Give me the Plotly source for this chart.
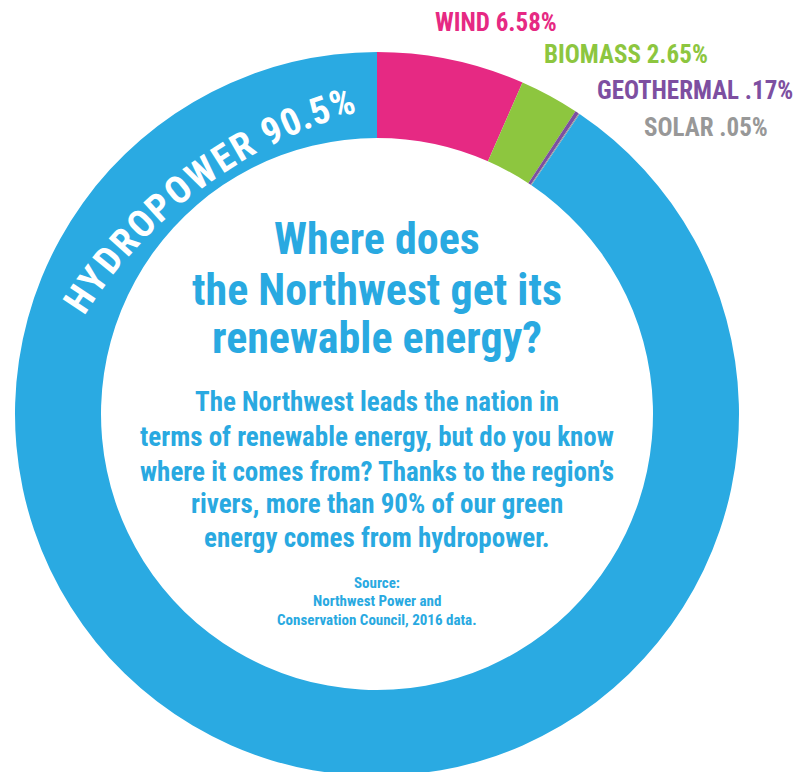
import math
import plotly.graph_objects as go

# ---------------- data ----------------
sources = ["WIND", "BIOMASS", "GEOTHERMAL", "SOLAR", "HYDROPOWER"]
shares = [6.58, 2.65, 0.17, 0.05, 90.5]
share_text = ["6.58%", "2.65%", ".17%", ".05%", "90.5%"]
colors = ["#E62983", "#8DC63F", "#7D4FA1", "#989898", "#2AAAE2"]

title_lines = ["Where does", "the Northwest get its", "renewable energy?"]
body_lines = [
    "The Northwest leads the nation in",
    "terms of renewable energy, but do you know",
    "where it comes from? Thanks to the region\u2019s",
    "rivers, more than 90% of our green",
    "energy comes from hydropower.",
]
source_lines = ["Source:", "Northwest Power and", "Conservation Council, 2016 data."]

# ---------------- layout constants (screen px, top-left origin) ----------------
W, H = 802, 772
OFF = 8                    # page body margin around the plot div
CX, CY = 377, 414          # donut centre
R_OUT = 362
HOLE = 276 / 362
FONT = "Roboto Condensed, Open Sans Condensed, DejaVu Sans Condensed, sans-serif"
TXT_BLUE = "#29A9E1"


def px(x):
    return (x - OFF) / W


def py(y):
    return 1 - (y - OFF) / H


fcx, fcy = CX - OFF, CY - OFF          # centre in figure coords
fig = go.Figure(
    go.Pie(
        labels=sources,
        values=shares,
        marker=dict(colors=colors, line=dict(width=0)),
        hole=HOLE,
        sort=False,
        direction="clockwise",
        rotation=0,
        textinfo="none",
        hoverinfo="label+percent",
        showlegend=False,
        domain=dict(x=[(fcx - R_OUT) / W, (fcx + R_OUT) / W],
                    y=[(H - fcy - R_OUT) / H, (H - fcy + R_OUT) / H]),
    )
)

ann = []

# outside labels for the small slices (top-right)
lab_pos = [(433, 23), (542, 55), (595, 91), (642, 127)]
for i, (x, y) in enumerate(lab_pos):
    ann.append(dict(x=px(x), y=py(y), xref="paper", yref="paper",
                    xanchor="left", yanchor="middle", showarrow=False,
                    text=f"<b>{sources[i]} {share_text[i]}</b>",
                    font=dict(family=FONT, size=25, color=colors[i])))

# curved label along the hydropower ring (text path: flatter arc)
TAX, TAY, TR = CX + 106, CY + 151, 483
A0, A1 = -56.6, -17.0
CW = {"H": .63, "Y": .57, "D": .60, "R": .59, "O": .62, "P": .60,
      "W": .80, "E": .52, " ": .25, "9": .51, "0": .51, ".": .25,
      "5": .51, "%": .66}
label = f"{sources[4]} {share_text[4]}"
wd = [CW.get(c, .55) for c in label]
cent = [sum(wd[:k]) + wd[k] / 2 for k in range(len(label))]
for k, ch in enumerate(label):
    if ch == " ":
        continue
    t = (cent[k] - cent[0]) / (cent[-1] - cent[0])
    th = math.radians(A0 + t * (A1 - A0))
    x = TAX + TR * math.sin(th)
    y = TAY - TR * math.cos(th)
    ann.append(dict(x=px(x), y=py(y), xref="paper", yref="paper",
                    xanchor="center", yanchor="middle", showarrow=False,
                    text=f"<b>{ch}</b>", textangle=math.degrees(th),
                    font=dict(family=FONT, size=38, color="white")))

# centre title
for line, y in zip(title_lines, [239, 290, 338]):
    ann.append(dict(x=px(CX), y=py(y), xref="paper", yref="paper",
                    xanchor="center", yanchor="middle", showarrow=False,
                    text=f"<b>{line}</b>",
                    font=dict(family=FONT, size=44, color=TXT_BLUE)))

for line, y in zip(body_lines, [402, 437, 472, 504, 538]):
    ann.append(dict(x=px(CX), y=py(y), xref="paper", yref="paper",
                    xanchor="center", yanchor="middle", showarrow=False,
                    text=f"<b>{line}</b>",
                    font=dict(family=FONT, size=27, color=TXT_BLUE)))

for line, y in zip(source_lines, [583, 601, 620]):
    ann.append(dict(x=px(CX), y=py(y), xref="paper", yref="paper",
                    xanchor="center", yanchor="middle", showarrow=False,
                    text=f"<b>{line}</b>",
                    font=dict(family=FONT, size=15, color=TXT_BLUE)))

fig.update_layout(
    width=W, height=H,
    margin=dict(l=0, r=0, t=0, b=0),
    paper_bgcolor="white", plot_bgcolor="white",
    annotations=ann,
)

fig.write_html("out.html")
